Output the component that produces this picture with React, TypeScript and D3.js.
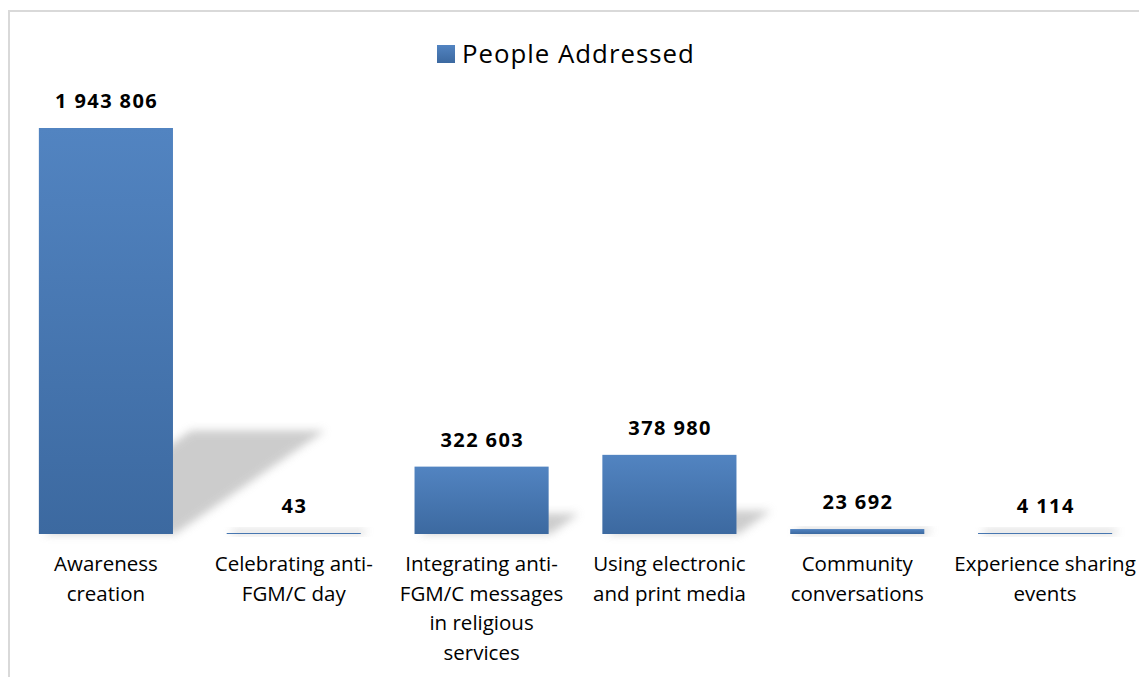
import React from "react";
import * as d3 from "d3";

const categories: string[] = [
  "Awareness\ncreation",
  "Celebrating anti-\nFGM/C day",
  "Integrating anti-\nFGM/C messages\nin religious\nservices",
  "Using electronic\nand print media",
  "Community\nconversations",
  "Experience sharing\nevents",
];
const peopleAddressed: number[] = [1943806, 43, 322603, 378980, 23692, 4114];
const seriesName = "People Addressed";

const W = 1139;
const H = 677;
const FONT = "'Open Sans', Lato, sans-serif";

const fmt = (v: number) => d3.format(",")(v).replace(/,/g, " ");

export default function App() {
  const x = d3
    .scaleBand<number>()
    .domain(d3.range(categories.length))
    .range([12, 1139])
    .paddingInner(0.286)
    .paddingOuter(0.143);
  const base = 534;
  const y = d3.scaleLinear().domain([0, 1943806]).range([base, 128]);

  return (
    <svg
      width={W}
      height={H}
      style={{ position: "absolute", left: 0, top: 0, background: "#fff" }}
    >
      <defs>
        <linearGradient id="barGrad" x1="0" y1="0" x2="0" y2="1">
          <stop offset="0%" stopColor="#5284c1" />
          <stop offset="100%" stopColor="#3c69a0" />
        </linearGradient>
        <filter id="blur" x="-50%" y="-50%" width="200%" height="200%">
          <feGaussianBlur stdDeviation="4" />
        </filter>
      </defs>
      <rect x={9} y={11} width={1200} height={700} fill="#fff" stroke="#d9d9d9" strokeWidth={2} />
      {/* legend */}
      <rect x={437} y={45} width={18} height={18} fill="url(#barGrad)" />
      <text x={462} y={63} fontFamily={FONT} fontSize={25.8} letterSpacing={1} fill="#000">
        {seriesName}
      </text>
      {/* shadows */}
      {peopleAddressed.map((v, i) => {
        const x0 = x(i)!;
        const x1 = x0 + x.bandwidth();
        const h = base - y(v);
        const dx = h * 0.36 + 6;
        const dy = h * 0.245 + 4;
        const pts = [
          [x0 + 4, base],
          [x1 + 2, base],
          [x1 + dx, base - dy],
          [x0 + dx, base - dy],
        ];
        return (
          <polygon
            key={"s" + i}
            points={pts.map((p) => p.join(",")).join(" ")}
            fill="#c4c4c4"
            opacity={0.85}
            filter="url(#blur)"
          />
        );
      })}
      {/* bars */}
      {peopleAddressed.map((v, i) => {
        const h = Math.max(base - y(v), 1);
        return (
          <rect
            key={"b" + i}
            x={x(i)}
            y={base - h}
            width={x.bandwidth()}
            height={h}
            fill="url(#barGrad)"
          />
        );
      })}
      {/* value labels */}
      {peopleAddressed.map((v, i) => {
        const h = Math.max(base - y(v), 1);
        return (
          <text
            key={"v" + i}
            x={x(i)! + x.bandwidth() / 2 + 0.7}
            y={base - h - 20}
            textAnchor="middle"
            fontFamily={FONT}
            fontWeight="bold"
            fontSize={20}
            letterSpacing={1.4}
            fill="#000"
          >
            {fmt(v)}
          </text>
        );
      })}
      {/* category labels */}
      {categories.map((c, i) => (
        <text
          key={"c" + i}
          x={x(i)! + x.bandwidth() / 2}
          textAnchor="middle"
          fontFamily={FONT}
          fontSize={20.5}
          fill="#000"
        >
          {c.split("\n").map((line, j) => (
            <tspan key={j} x={x(i)! + x.bandwidth() / 2} y={571 + j * 29.5}>
              {line}
            </tspan>
          ))}
        </text>
      ))}
    </svg>
  );
}
